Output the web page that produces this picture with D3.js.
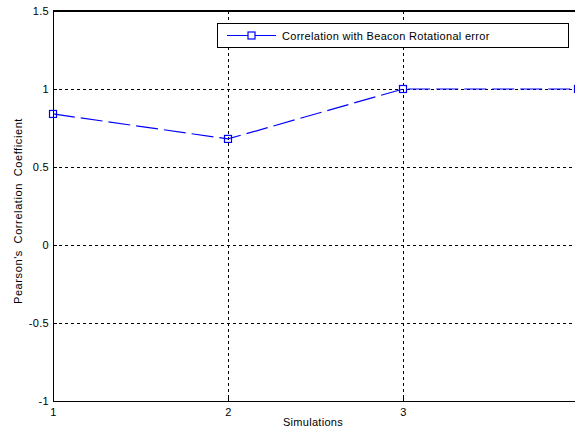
<!DOCTYPE html>
<html><head><meta charset="utf-8">
<script src="https://cdn.jsdelivr.net/npm/d3@7"></script>
<style>html,body{margin:0;padding:0;background:#fff;}svg{display:block;font-family:Arial,"Liberation Sans",sans-serif;}</style>
</head><body>
<script>
const simulations = [1, 2, 3, 4];
const correlation = [0.84, 0.68, 1.0, 1.0];
const xTicks = [1, 2, 3];
const yTicks = [-1, -0.5, 0, 0.5, 1, 1.5];
const seriesName = "Correlation with Beacon Rotational error";
const xLabel = "Simulations";
const yLabel = "Pearson's Correlation Coefficient";

const W = 575, H = 431;
const svg = d3.select("body").append("svg").attr("width", W).attr("height", H);
const L = 53, R = 578, T = 11, B = 401;
const x = d3.scaleLinear().domain([1, 4]).range([L, R]);
const y = d3.scaleLinear().domain([-1, 1.5]).range([B, T]);
const FS = 11, LS = 0.3;

// grid
const g = svg.append("g");
g.selectAll(".vg").data(xTicks.filter(d => d > 1)).join("line")
  .attr("x1", d => x(d)).attr("x2", d => x(d)).attr("y1", T).attr("y2", B)
  .attr("stroke", "#000").attr("stroke-width", 1).attr("stroke-dasharray", "3,3").attr("shape-rendering","crispEdges");
g.selectAll(".hg").data(yTicks.filter(d => d > -1 && d < 1.5)).join("line")
  .attr("x1", L).attr("x2", R).attr("y1", d => y(d)).attr("y2", d => y(d))
  .attr("stroke", "#000").attr("stroke-width", 1).attr("stroke-dasharray", "3,3").attr("shape-rendering","crispEdges");

// axes
const xAxis = d3.axisBottom(x).tickValues(xTicks).tickFormat(d3.format("d")).tickSizeInner(-4).tickSizeOuter(0).tickPadding(7);
const yAxis = d3.axisLeft(y).tickValues(yTicks).tickFormat(d => String(d)).tickSizeInner(-4).tickSizeOuter(0).tickPadding(4);
const gx = svg.append("g").attr("transform", `translate(0,${B})`).call(xAxis);
const gy = svg.append("g").attr("transform", `translate(${L},0)`).call(yAxis);
[gx, gy].forEach(a => {
  a.selectAll("path.domain").attr("stroke", "#000").attr("stroke-width", 1.3).attr("shape-rendering","crispEdges");
  a.selectAll("line").attr("stroke", "#000").attr("shape-rendering","crispEdges");
  a.selectAll("text").attr("fill", "#000").attr("font-size", FS).attr("letter-spacing", LS)
    .attr("font-family", "Arial, 'Liberation Sans', sans-serif");
});
// top border
svg.append("line").attr("x1", L).attr("x2", R).attr("y1", T).attr("y2", T)
  .attr("stroke", "#000").attr("stroke-width", 1.3).attr("shape-rendering","crispEdges");

// series
const data = simulations.map((s, i) => ({ s, v: correlation[i] }));
const plot = svg.append("g");
plot.append("path").datum(data)
  .attr("d", d3.line().x(d => x(d.s)).y(d => y(d.v)))
  .attr("fill", "none").attr("stroke", "#0000ff").attr("stroke-width", 1.2).attr("stroke-dasharray", "22,6");
plot.selectAll("rect.m").data(data).join("rect")
  .attr("x", d => x(d.s) - 3.5).attr("y", d => y(d.v) - 3.5).attr("width", 7).attr("height", 7)
  .attr("fill", "none").attr("stroke", "#0000ff").attr("stroke-width", 1.2);

// labels
svg.append("text").attr("x", 313).attr("y", 426).attr("text-anchor", "middle")
  .attr("font-size", FS).attr("letter-spacing", LS).text(xLabel);
svg.append("text").attr("transform", `translate(22,211) rotate(-90)`).attr("text-anchor", "middle")
  .attr("font-size", FS).attr("letter-spacing", 0.6).attr("word-spacing", 3).text(yLabel);

// legend
const lg = svg.append("g");
lg.append("rect").attr("x", 217.5).attr("y", 23.5).attr("width", 351).attr("height", 24)
  .attr("fill", "#fff").attr("stroke", "#000").attr("stroke-width", 1);
lg.append("line").attr("x1", 227).attr("x2", 276).attr("y1", 35.5).attr("y2", 35.5)
  .attr("stroke", "#0000ff").attr("stroke-width", 1.2);
lg.append("rect").attr("x", 251.5 - 3.5).attr("y", 35.5 - 3.5).attr("width", 7).attr("height", 7)
  .attr("fill", "#fff").attr("stroke", "#0000ff").attr("stroke-width", 1.2);
lg.append("text").attr("x", 282).attr("y", 39.5).attr("font-size", FS).attr("letter-spacing", LS).text(seriesName);
</script>
</body></html>
